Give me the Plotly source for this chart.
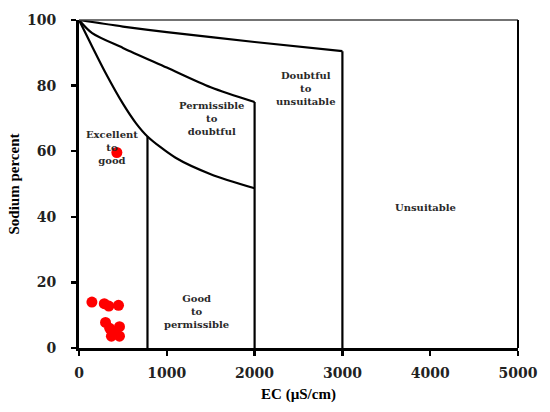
import plotly.graph_objects as go

# Boundary curves of the Wilcox-type diagram (EC in µS/cm, Na %)
outer_ec = [0, 500, 1000, 2000, 3000]
outer_na = [100, 98, 96.3, 93.3, 90.5]

middle_ec = [0, 150, 500, 1000, 1500, 2000]
middle_na = [100, 96, 91.5, 85.5, 79.5, 75]

inner_ec = [0, 120, 300, 500, 650, 780, 1100, 1500, 2000]
inner_na = [100, 93.5, 84, 74.5, 68.5, 64.5, 58, 53, 48.7]

# Vertical class boundaries
vline_ec = [780, 2000, 3000]
vline_top = [64.5, 75, 90.5]

# Samples
sample_ec = [147, 288, 340, 450, 302, 350, 461, 369, 461, 406, 431]
sample_na = [14, 13.5, 12.8, 13, 7.8, 6, 6.5, 3.6, 3.6, 4.6, 59.6]

# Zone labels
zone_text = ["Excellent<br>to<br>good", "Permissible<br>to<br>doubtful",
             "Doubtful<br>to<br>unsuitable", "Unsuitable", "Good<br>to<br>permissible"]
zone_ec = [376, 1508, 2590, 3950, 1335]
zone_na = [61, 70, 79, 42.8, 11]

x_ticks = [0, 1000, 2000, 3000, 4000, 5000]
y_ticks = [0, 20, 40, 60, 80, 100]

line_style = dict(color="black", width=2.2)
fig = go.Figure()
fig.add_trace(go.Scatter(x=outer_ec, y=outer_na, mode="lines", line=dict(shape="spline", smoothing=0.8, **line_style)))
fig.add_trace(go.Scatter(x=middle_ec, y=middle_na, mode="lines", line=dict(shape="spline", smoothing=0.8, **line_style)))
fig.add_trace(go.Scatter(x=inner_ec, y=inner_na, mode="lines", line=dict(shape="spline", smoothing=0.8, **line_style)))
for ec, top in zip(vline_ec, vline_top):
    fig.add_trace(go.Scatter(x=[ec, ec], y=[0, top], mode="lines", line=line_style))
fig.add_trace(go.Scatter(x=sample_ec, y=sample_na, mode="markers",
                         marker=dict(color="#ff0000", size=11, line=dict(width=0))))

for t, x, y in zip(zone_text, zone_ec, zone_na):
    fig.add_annotation(x=x, y=y, text="<b>" + t + "</b>", showarrow=False,
                       font=dict(family="DejaVu Serif", size=10, color="#2a2a2a"))

# top and right frame
fig.add_shape(type="line", xref="paper", yref="paper", x0=0, x1=1, y0=1, y1=1,
              line=dict(color="#444", width=1.5))
fig.add_shape(type="line", xref="paper", yref="paper", x0=1, x1=1, y0=0, y1=1,
              line=dict(color="black", width=2))

fig.update_layout(
    width=550, height=412,
    margin=dict(l=76, r=22, t=16, b=60),
    paper_bgcolor="white", plot_bgcolor="white",
    showlegend=False, hovermode=False,
    font=dict(family="Liberation Serif", color="black"),
    xaxis=dict(range=[0, 5000], tickvals=x_ticks, ticktext=["<b>%d</b>" % v for v in x_ticks],
               showgrid=False, zeroline=False, showline=True, linecolor="black", linewidth=2.5,
               ticks="outside", ticklen=5, tickwidth=2.5, tickcolor="black",
               ticklabelstandoff=6, ticklabeloverflow="allow",
               tickfont=dict(family="DejaVu Serif", size=14, color="#222"),
               title=dict(text="<b>EC (µS/cm)</b>", font=dict(family="Liberation Serif", size=15), standoff=8)),
    yaxis=dict(range=[0, 100], tickvals=y_ticks, ticktext=["<b>%d</b>" % v for v in y_ticks],
               showgrid=False, zeroline=False, showline=True, linecolor="black", linewidth=3,
               ticks="outside", ticklen=5, tickwidth=2.5, tickcolor="black",
               ticklabelstandoff=12, ticklabeloverflow="allow",
               tickfont=dict(family="DejaVu Serif", size=14, color="#222"),
               title=dict(text="<b>Sodium percent</b>", font=dict(family="Liberation Serif", size=15), standoff=4)),
)

fig.write_html("out.html", config={"displayModeBar": False, "staticPlot": True},
               post_script="document.body.style.margin='0';document.body.style.overflow='hidden';")
